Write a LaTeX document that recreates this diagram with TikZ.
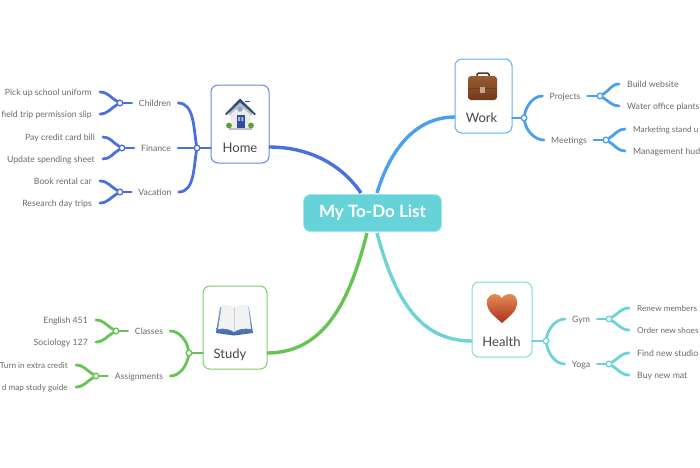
\documentclass[tikz,border=0pt]{standalone}
\usepackage{fontspec}
\setmainfont{Lato}
\usetikzlibrary{calc}
\definecolor{homec}{HTML}{4A6FE0}
\definecolor{workc}{HTML}{4A9FEE}
\definecolor{healthc}{HTML}{6DD3D6}
\definecolor{studyc}{HTML}{66C455}
\definecolor{centerc}{HTML}{66D3D8}
\definecolor{txt}{HTML}{6A6A6A}
\definecolor{roofc}{HTML}{2F4F78}
\definecolor{winc}{HTML}{8EA6CF}
\definecolor{doorc}{HTML}{2E4D9A}
\definecolor{doorw}{HTML}{9FB6E0}
\definecolor{bushc}{HTML}{5F9E35}
\definecolor{brownd}{HTML}{5A3018}
\definecolor{brownt}{HTML}{9A5A33}
\definecolor{brownb}{HTML}{6F3A1C}
\definecolor{clasp}{HTML}{C7A58C}
\definecolor{heartt}{HTML}{E58A55}
\definecolor{heartb}{HTML}{A8321C}
\definecolor{bookt}{HTML}{8FB0E0}
\definecolor{bookb}{HTML}{3F66A8}
\tikzset{
  topicbox/.style={draw=#1!85,line width=1pt,fill=white,rounded corners=7pt},
  toplabel/.style={text=black!72,font=\fontsize{13}{15}\selectfont,inner sep=0pt,text height=11pt,text depth=1pt},
  sublabel/.style={text=txt,font=\fontsize{8.7}{10}\selectfont,inner xsep=7pt,inner ysep=1pt,text height=7.5pt,text depth=0.5pt},
  leafl/.style={text=txt,font=\fontsize{8.7}{10}\selectfont,inner xsep=8pt,inner ysep=1pt,anchor=east,text height=7.5pt,text depth=0.5pt},
  leafr/.style={text=txt,font=\fontsize{8.7}{10}\selectfont,inner xsep=8pt,inner ysep=1pt,anchor=west,text height=7.5pt,text depth=0.5pt},
  smallfont/.style={font=\fontsize{8.2}{10}\selectfont},
  jct/.style={circle,draw=#1,fill=white,line width=1.2pt,inner sep=0pt,minimum size=5.5pt},
  lnk/.style={draw=#1,line width=2.8pt,line cap=round},
  mainlnk/.style={draw=#1,line width=3.4pt},
}
\newcommand{\topicbox}[6]{% name colour x1 y1 x2 y2
  \node[topicbox=#2,minimum width=#5pt-#3pt,minimum height=#6pt-#4pt,inner sep=0pt] (#1) at ({(#3+#5)/2},{(#4+#6)/2}) {};}
\begin{document}
\begin{tikzpicture}[x=1pt,y=-1pt]
\useasboundingbox (0,0) rectangle (700,467);
% ---- main connectors
\node[fill=centerc,draw=centerc!60,line width=0.7pt,rounded corners=7pt,minimum width=138pt,minimum height=37pt,inner sep=0pt,text=white,font=\bfseries\fontsize{17}{20}\selectfont] (center) at (372.5,213) {My To-Do List};
\coordinate (cHome) at (361,193);
\coordinate (cWork) at (377,193);
\coordinate (cStudy) at (367,233);
\coordinate (cHealth) at (377,233);
\topicbox{home}{homec}{211}{85}{269}{163}
\topicbox{work}{workc}{455}{59}{512}{133}
\topicbox{health}{healthc}{472}{282}{532}{357}
\topicbox{study}{studyc}{203}{286}{267}{369}
\coordinate (homeE) at (269,147);
\coordinate (workW) at (455,117);
\coordinate (healthW) at (472,341);
\coordinate (studyE) at (267,353);
\draw[mainlnk=homec] (homeE) .. controls (310,147) and (342,165) .. (cHome);
\draw[mainlnk=workc] (workW) .. controls (415,117) and (390,150) .. (cWork);
\draw[mainlnk=studyc] (studyE) .. controls (325,353) and (350,300) .. (cStudy);
\draw[mainlnk=healthc] (healthW) .. controls (420,341) and (395,300) .. (cHealth);
% ---- topic labels
\node[toplabel] (homeT) at (240,147) {Home};
\node[toplabel] (workT) at (481.5,117) {Work};
\node[toplabel] (healthT) at (501.5,341) {Health};
\node[toplabel] (studyT) at (230,353) {Study};
% ---- icons
% house
 \fill[black!25] (229,128) rectangle (252,129.5);
 \fill[black!25] (229,112) -- (240,103) -- (252,112) -- (252,115) -- (229,115) -- cycle;
 \fill[black!8] (231,114) -- (240,106) -- (250,114) -- (250,128) -- (231,128) -- cycle;
 \fill[roofc] (225,114) -- (240,98.5) -- (256,114) -- (254.5,115) -- (240,102.5) -- (226.5,115) -- cycle;
 \fill[roofc] (245,100.5) rectangle (250,102);
 \fill[winc] (240,109) circle (2.8);
 \fill[doorc] (237,115) rectangle (244.5,128);
 \fill[doorw] (238.2,117) rectangle (240.2,121) (241.3,117) rectangle (243.3,121);
 \fill[bushc] (229,125.5) circle (2.9) (251,125.5) circle (2.9);
% briefcase
\draw[brownd,line width=1.5pt,rounded corners=1.5pt] (477,76) -- (477,73) -- (489,73) -- (489,76);
\shade[top color=brownt,bottom color=brownb,rounded corners=3pt] (468,76) rectangle (497,100);
\fill[brownd,opacity=.45] (468,88) rectangle (497,89);
\fill[clasp] (480,87) rectangle (485,93);
% heart
\shade[top color=heartt,bottom color=heartb] (502,323) .. controls (494,316) and (487,311) .. (487,303) .. controls (487,297) and (491,294) .. (495,294) .. controls (498,294) and (501,296) .. (502,298) .. controls (503,296) and (506,294) .. (510,294) .. controls (514,294) and (517,297) .. (517,303) .. controls (517,311) and (510,316) .. (502,323) -- cycle;
% book
\shade[top color=bookt,bottom color=bookb] (220,307) -- (216,333) -- (234,335.5) -- (253,333) -- (249,307) -- (234,311) -- cycle;
\fill[black!5] (222,305) .. controls (228,304) and (232,306) .. (234,308) .. controls (237,306) and (242,304) .. (248,305) -- (251,329) .. controls (244,328) and (238,329) .. (234,332) .. controls (230,329) and (224,328) .. (218,329) -- cycle;
\draw[black!18,line width=0.5pt] (234,308) -- (234,332);
% ---- HOME branch
\node[jct=homec] (jH) at (197,148) {};
\node[sublabel] (children) at (155,103) {Children};
\node[sublabel] (finance) at (156,148) {Finance};
\node[sublabel] (vacation) at (155,192) {Vacation};
\draw[lnk=homec] (home.west |- jH) -- (jH);
\draw[lnk=homec] (jH) to[out=100,in=0,looseness=.9] (children.east);
\draw[lnk=homec] (jH) -- (finance.east);
\draw[lnk=homec] (jH) to[out=-100,in=0,looseness=.9] (vacation.east);
\node[jct=homec] (jC) at (120,103) {};
\node[leafl] (l1) at (100,92) {Pick up school uniform};
\node[leafl] (l2) at (100,114) {field trip permission slip};
\draw[lnk=homec] (children.west) -- (jC);
\draw[lnk=homec] (jC) to[out=150,in=0] (l1.east);
\draw[lnk=homec] (jC) to[out=-150,in=0] (l2.east);
\node[jct=homec] (jF) at (122,148) {};
\node[leafl] (l3) at (103,137) {Pay credit card bill};
\node[leafl] (l4) at (103,159) {Update spending sheet};
\draw[lnk=homec] (finance.west) -- (jF);
\draw[lnk=homec] (jF) to[out=150,in=0] (l3.east);
\draw[lnk=homec] (jF) to[out=-150,in=0] (l4.east);
\node[jct=homec] (jV) at (120,192) {};
\node[leafl] (l5) at (100,181) {Book rental car};
\node[leafl] (l6) at (100,203) {Research day trips};
\draw[lnk=homec] (vacation.west) -- (jV);
\draw[lnk=homec] (jV) to[out=150,in=0] (l5.east);
\draw[lnk=homec] (jV) to[out=-150,in=0] (l6.east);
\foreach \n in {jH,jC,jF,jV} \node[jct=homec] at (\n) {};
% ---- STUDY branch
\node[jct=studyc] (jS) at (189,353) {};
\node[sublabel] (classes) at (149,331) {Classes};
\node[sublabel] (assign) at (139,376) {Assignments};
\draw[lnk=studyc] (study.west |- jS) -- (jS);
\draw[lnk=studyc] (jS) to[out=100,in=0,looseness=.9] (classes.east);
\draw[lnk=studyc] (jS) to[out=-100,in=0,looseness=.9] (assign.east);
\node[jct=studyc] (jCl) at (116,331) {};
\node[leafl] (s1) at (96,320) {English 451};
\node[leafl] (s2) at (96,342) {Sociology 127};
\draw[lnk=studyc] (classes.west) -- (jCl);
\draw[lnk=studyc] (jCl) to[out=150,in=0] (s1.east);
\draw[lnk=studyc] (jCl) to[out=-150,in=0] (s2.east);
\node[jct=studyc] (jAs) at (96,376) {};
\node[leafl,smallfont] (s3) at (76,365) {Turn in extra credit};
\node[leafl,smallfont] (s4) at (76,387) {d map study guide};
\draw[lnk=studyc] (assign.west) -- (jAs);
\draw[lnk=studyc] (jAs) to[out=150,in=0] (s3.east);
\draw[lnk=studyc] (jAs) to[out=-150,in=0] (s4.east);
\foreach \n in {jS,jCl,jAs} \node[jct=studyc] at (\n) {};
% ---- WORK branch
\node[jct=workc] (jW) at (524,118) {};
\node[sublabel] (projects) at (565,96) {Projects};
\node[sublabel] (meetings) at (569,140) {Meetings};
\draw[lnk=workc] (work.east |- jW) -- (jW);
\draw[lnk=workc] (jW) to[out=80,in=180,looseness=.9] (projects.west);
\draw[lnk=workc] (jW) to[out=-80,in=180,looseness=.9] (meetings.west);
\node[jct=workc] (jP) at (600,96) {};
\node[leafr] (w1) at (619,84) {Build website};
\node[leafr] (w2) at (619,106) {Water office plants};
\draw[lnk=workc] (projects.east) -- (jP);
\draw[lnk=workc] (jP) to[out=30,in=180] (w1.west);
\draw[lnk=workc] (jP) to[out=-30,in=180] (w2.west);
\node[jct=workc] (jM) at (606,140) {};
\node[leafr,smallfont] (w3) at (625,129) {Marketing stand u};
\node[leafr] (w4) at (625,151) {Management hud};
\draw[lnk=workc] (meetings.east) -- (jM);
\draw[lnk=workc] (jM) to[out=30,in=180] (w3.west);
\draw[lnk=workc] (jM) to[out=-30,in=180] (w4.west);
\foreach \n in {jW,jP,jM} \node[jct=workc] at (\n) {};
% ---- HEALTH branch
\node[jct=healthc] (jHe) at (546,341) {};
\node[sublabel] (gym) at (581,319) {Gym};
\node[sublabel] (yoga) at (581,364) {Yoga};
\draw[lnk=healthc] (health.east |- jHe) -- (jHe);
\draw[lnk=healthc] (jHe) to[out=80,in=180,looseness=.9] (gym.west);
\draw[lnk=healthc] (jHe) to[out=-80,in=180,looseness=.9] (yoga.west);
\node[jct=healthc] (jG) at (609,319) {};
\node[leafr,smallfont] (h1) at (629,308) {Renew members};
\node[leafr,smallfont] (h2) at (629,330) {Order new shoes};
\draw[lnk=healthc] (gym.east) -- (jG);
\draw[lnk=healthc] (jG) to[out=30,in=180] (h1.west);
\draw[lnk=healthc] (jG) to[out=-30,in=180] (h2.west);
\node[jct=healthc] (jY) at (609,364) {};
\node[leafr] (h3) at (629,353) {Find new studio};
\node[leafr] (h4) at (629,375) {Buy new mat};
\draw[lnk=healthc] (yoga.east) -- (jY);
\draw[lnk=healthc] (jY) to[out=30,in=180] (h3.west);
\draw[lnk=healthc] (jY) to[out=-30,in=180] (h4.west);
\foreach \n in {jHe,jG,jY} \node[jct=healthc] at (\n) {};
\end{tikzpicture}
\end{document}
